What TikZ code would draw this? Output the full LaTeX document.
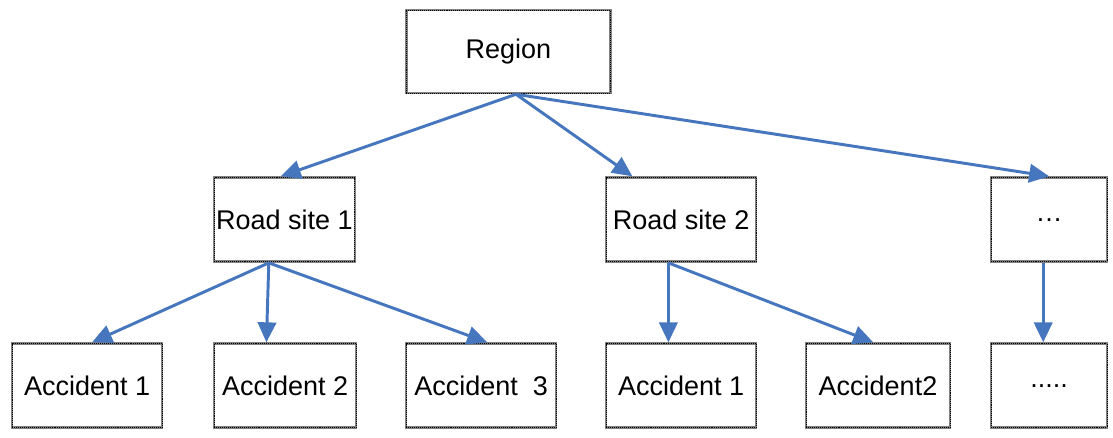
\documentclass[tikz,border=0pt]{standalone}
\usepackage{fontspec}
\setmainfont{Liberation Sans}
\usepackage{tikz}
\usetikzlibrary{arrows.meta}

\definecolor{linkblue}{RGB}{70,118,190}

\begin{document}
\begin{tikzpicture}[
	box/.style = {rectangle, draw=gray, line width=1.8pt, inner sep=0pt, minimum height=2.1cm,
		font=\fontsize{19.2}{23}\selectfont,
		postaction={draw=black, line width=0.6pt, dash pattern=on 0.7pt off 0.7pt}},
	link/.style = {draw=linkblue, line width=2.1pt, -{Triangle[length=0.5cm, width=0.46cm]}}
]
\useasboundingbox (0, 0) rectangle (27.825, -10.95);

\path	(12.71, -1.29)	node(region)	[box, minimum width = 5.1cm, minimum height = 2.07cm]	{Region}
		(7.11, -5.49)	node(site_a)	[box, minimum width = 3.52cm]	{Road site 1}
		(17.03, -5.49)	node(site_b)	[box, minimum width = 3.75cm]	{Road site 2}
		(26.23, -5.49)	node(site_more)	[box, minimum width = 2.9cm]	{\ldots}
		(2.18, -9.64)	node(acc_a1)	[box, minimum width = 3.75cm]	{Accident 1}
		(7.13, -9.64)	node(acc_a2)	[box, minimum width = 3.55cm]	{Accident 2}
		(12.03, -9.64)	node(acc_a3)	[box, minimum width = 3.75cm]	{Accident\ \ 3}
		(17.03, -9.64)	node(acc_b1)	[box, minimum width = 3.75cm]	{Accident 1}
		(21.95, -9.64)	node(acc_b2)	[box, minimum width = 3.6cm]	{Accident2}
		(26.23, -9.64)	node(acc_more)	[box, minimum width = 2.9cm]	{.....};

% region to road sites
\draw[link]	([xshift=0.19cm]region.south)		--		([xshift=-0.09cm]site_a.north);
\draw[link]	([xshift=0.19cm]region.south)		--		([xshift=-1.22cm]site_b.north);
\draw[link]	([xshift=0.19cm]region.south)		--		(site_more.north);

% road sites to accidents
\draw[link]	([xshift=-0.39cm]site_a.south)		--		([xshift=0.12cm]acc_a1.north);
\draw[link]	([xshift=-0.39cm]site_a.south)		--		([xshift=-0.47cm]acc_a2.north);
\draw[link]	([xshift=-0.39cm]site_a.south)		--		([xshift=0.15cm]acc_a3.north);
\draw[link]	([xshift=-0.32cm]site_b.south)		--		([xshift=-0.32cm]acc_b1.north);
\draw[link]	([xshift=-0.32cm]site_b.south)		--		([xshift=-0.12cm]acc_b2.north);
\draw[link]	([xshift=-0.15cm]site_more.south)	--		([xshift=-0.15cm]acc_more.north);
\end{tikzpicture}
\end{document}
